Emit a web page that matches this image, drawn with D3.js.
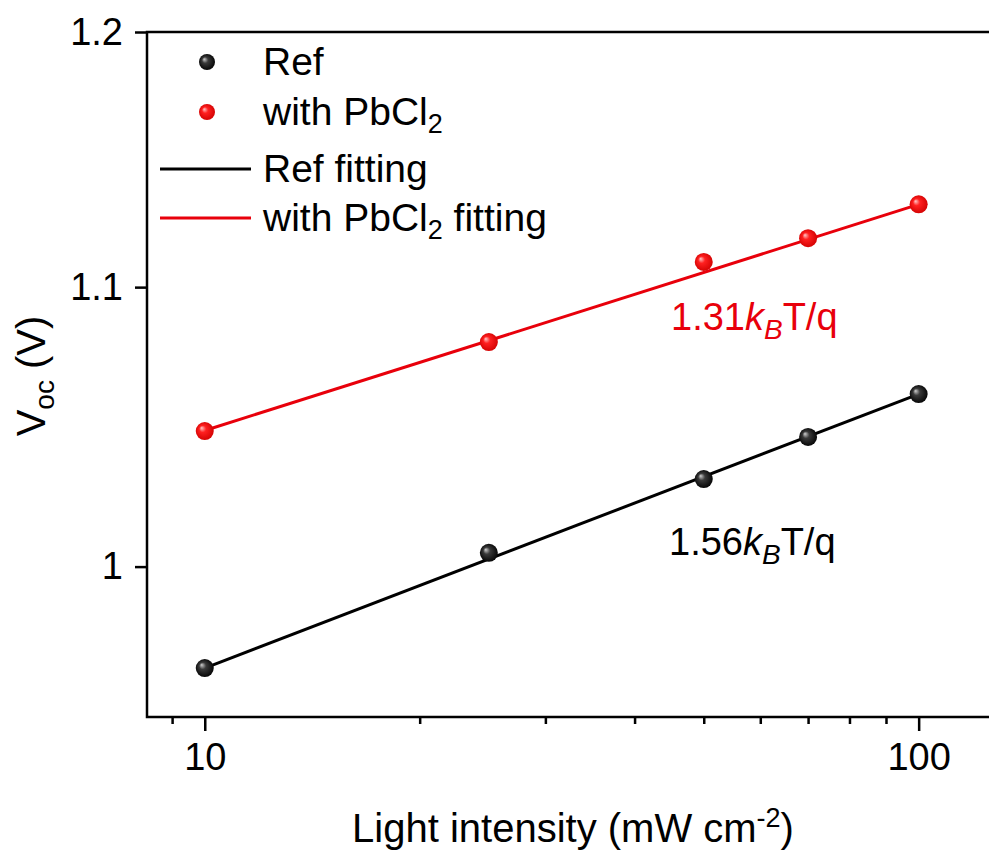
<!DOCTYPE html>
<html>
<head>
<meta charset="utf-8">
<script src="https://cdn.jsdelivr.net/npm/d3@7"></script>
<style>
  body { margin: 0; background: #fff; }
  svg text { font-family: "Liberation Sans", Arial, sans-serif; }
</style>
</head>
<body>
<div id="chart"></div>
<script>
// light intensity (mW cm-2)
const intensity = [10, 25, 50, 70, 100];
// Voc (V)
const vocRef = [0.966, 1.0047, 1.0303, 1.0452, 1.0606];
const vocPb = [1.0473, 1.0796, 1.1095, 1.1185, 1.1315];
// fitting lines, endpoints
const fitX = [10, 100];
const fitRef = [0.966, 1.0606];
const fitPb = [1.0475, 1.1315];

const xMajor = [10, 100];
const xMinor = [9, 20, 30, 40, 50, 60, 70, 80, 90];
const yTicks = [1.0, 1.1, 1.2];

const width = 989;
const height = 853;

const svg = d3.select('#chart')
    .append('svg')
    .attr('width', width)
    .attr('height', height);

const plotLeft = 147, plotTop = 32, plotBottom = 717, plotRight = 1000;

const xScale = d3.scaleLog()
    .domain([8.3, 130])
    .range([plotLeft, plotRight]);

const yScale = d3.scaleLog()
    .domain([0.95, 1.2])
    .range([plotBottom, plotTop]);

// gradients for the sphere markers
const defs = svg.append('defs');
function sphere(id, light, mid, dark) {
    const g = defs.append('radialGradient')
        .attr('id', id)
        .attr('cx', '50%').attr('cy', '50%').attr('r', '55%')
        .attr('fx', '32%').attr('fy', '32%');
    g.append('stop').attr('offset', '0%').attr('stop-color', light);
    g.append('stop').attr('offset', '35%').attr('stop-color', mid);
    g.append('stop').attr('offset', '100%').attr('stop-color', dark);
}
sphere('ballBlack', '#d0d0d0', '#3a3a3a', '#000');
sphere('ballRed', '#ffc8c8', '#ff2020', '#d00000');

////////////////// AXES //////////////////

// x axis, major + minor ticks
svg.append('g')
    .attr('transform', `translate(0, ${plotBottom})`)
    .call(d3.axisBottom(xScale).tickValues(xMajor).tickSize(14).tickPadding(12).tickFormat(d3.format('d')))
    .call(g => g.select('.domain').remove())
    .call(g => g.selectAll('line').attr('stroke-width', 2.5))
    .call(g => g.selectAll('text').attr('font-size', 38).attr('fill', '#000'));

svg.append('g')
    .attr('transform', `translate(0, ${plotBottom})`)
    .call(d3.axisBottom(xScale).tickValues(xMinor).tickSize(7).tickFormat(''))
    .call(g => g.select('.domain').remove())
    .call(g => g.selectAll('line').attr('stroke-width', 2.5));

// y axis
svg.append('g')
    .attr('transform', `translate(${plotLeft}, 0)`)
    .call(d3.axisLeft(yScale).tickValues(yTicks).tickSize(12).tickPadding(12).tickFormat(d => d3.format('')(+d.toFixed(1))))
    .call(g => g.select('.domain').remove())
    .call(g => g.selectAll('line').attr('stroke-width', 2.5))
    .call(g => g.selectAll('text').attr('font-size', 38).attr('fill', '#000'));

// frame
svg.append('path')
    .attr('d', `M${plotRight},${plotTop}H${plotLeft}V${plotBottom}H${plotRight}`)
    .attr('fill', 'none')
    .attr('stroke', '#000')
    .attr('stroke-width', 2.5);

////////////////// FIT LINES //////////////////

const line = d3.line()
    .x((d, i) => xScale(fitX[i]))
    .y(d => yScale(d));

svg.append('path')
    .datum(fitRef)
    .attr('d', line)
    .attr('fill', 'none')
    .attr('stroke', '#000')
    .attr('stroke-width', 3);

svg.append('path')
    .datum(fitPb)
    .attr('d', line)
    .attr('fill', 'none')
    .attr('stroke', '#e8000b')
    .attr('stroke-width', 3);

////////////////// POINTS //////////////////

svg.append('g').selectAll('circle')
    .data(vocRef)
    .join('circle')
    .attr('cx', (d, i) => xScale(intensity[i]))
    .attr('cy', d => yScale(d))
    .attr('r', 9)
    .attr('fill', 'url(#ballBlack)');

svg.append('g').selectAll('circle')
    .data(vocPb)
    .join('circle')
    .attr('cx', (d, i) => xScale(intensity[i]))
    .attr('cy', d => yScale(d))
    .attr('r', 9)
    .attr('fill', 'url(#ballRed)');

////////////////// ANNOTATIONS //////////////////

function slopeLabel(x, y, n, color) {
    const t = svg.append('text')
        .attr('x', x).attr('y', y)
        .attr('font-size', 38)
        .attr('fill', color);
    t.append('tspan').text(n);
    t.append('tspan').attr('font-style', 'italic').text('k');
    t.append('tspan').attr('font-style', 'italic').attr('font-size', 28).attr('dy', 9).text('B');
    t.append('tspan').attr('dy', -9).text('T/q');
}
slopeLabel(671, 330, '1.31', '#e8000b');
slopeLabel(669, 555, '1.56', '#000');

////////////////// LEGEND //////////////////

const legend = svg.append('g');
const legendRows = [
    { type: 'ball', fill: 'url(#ballBlack)', label: 'Ref', y: 62 },
    { type: 'ball', fill: 'url(#ballRed)', label: 'with PbCl', sub: '2', y: 112 },
    { type: 'line', color: '#000', label: 'Ref fitting', y: 169 },
    { type: 'line', color: '#e8000b', label: 'with PbCl', sub: '2', after: ' fitting', y: 218 }
];
legendRows.forEach(r => {
    if (r.type === 'ball') {
        legend.append('circle').attr('cx', 207).attr('cy', r.y).attr('r', 8).attr('fill', r.fill);
    } else {
        legend.append('line').attr('x1', 160).attr('x2', 251).attr('y1', r.y).attr('y2', r.y)
            .attr('stroke', r.color).attr('stroke-width', 3);
    }
    const t = legend.append('text')
        .attr('x', 263).attr('y', r.y + 13)
        .attr('font-size', 39)
        .attr('fill', '#000');
    t.append('tspan').text(r.label);
    if (r.sub) {
        t.append('tspan').attr('font-size', 27).attr('dy', 8).text(r.sub);
        if (r.after) t.append('tspan').attr('dy', -8).text(r.after);
    }
});

////////////////// AXIS TITLES //////////////////

const xt = svg.append('text')
    .attr('x', 573).attr('y', 842)
    .attr('text-anchor', 'middle')
    .attr('font-size', 40)
    .attr('fill', '#000');
xt.append('tspan').text('Light intensity (mW cm');
xt.append('tspan').attr('font-size', 27).attr('dy', -15).text('-2');
xt.append('tspan').attr('dy', 15).text(')');

const yt = svg.append('text')
    .attr('transform', 'translate(45, 376) rotate(-90)')
    .attr('text-anchor', 'middle')
    .attr('font-size', 40)
    .attr('fill', '#000');
yt.append('tspan').text('V');
yt.append('tspan').attr('font-size', 28).attr('dy', 9).text('oc');
yt.append('tspan').attr('dy', -9).text(' (V)');
</script>
</body>
</html>
